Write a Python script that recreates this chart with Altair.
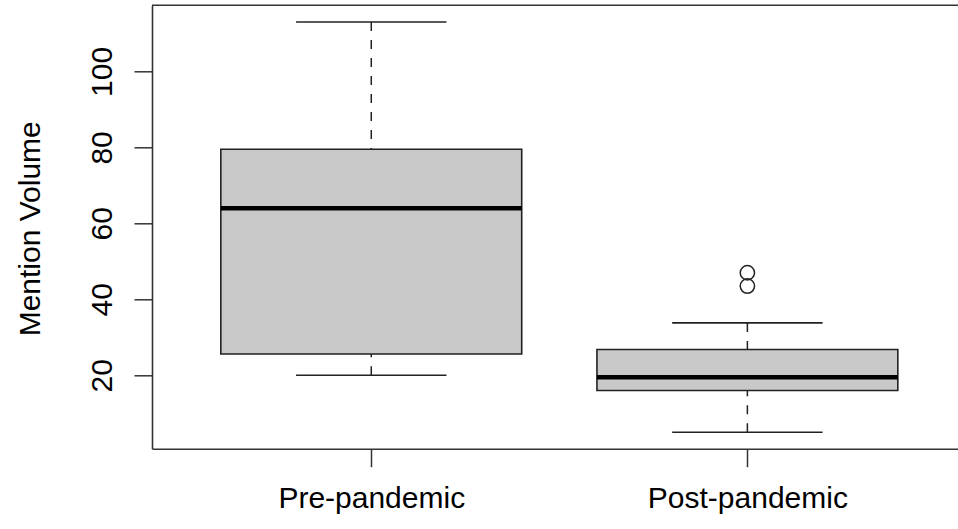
import json
import altair as alt
import pandas as pd

# ---- data ----
groups = ["Pre-pandemic", "Post-pandemic"]
lower_whisker = [20, 5]
q1 = [25.6, 16]
median = [64, 19.5]
q3 = [79.5, 26.8]
upper_whisker = [113, 33.8]
outlier_group = ["Post-pandemic", "Post-pandemic"]
outlier_values = [47, 43.5]
y_ticks = [20, 40, 60, 80, 100]

pos = [i + 1 for i in range(len(groups))]
df = pd.DataFrame({
    "group": groups, "pos": pos,
    "lower": lower_whisker, "q1": q1, "median": median,
    "q3": q3, "upper": upper_whisker,
})
df["left"] = df["pos"] - 0.4
df["right"] = df["pos"] + 0.4
df["capL"] = df["pos"] - 0.2
df["capR"] = df["pos"] + 0.2

out_df = pd.DataFrame({
    "pos": [groups.index(g) + 1 for g in outlier_group],
    "value": outlier_values,
})

W, H = 806, 443.4
FONT = "Liberation Sans"
FS = 30
LINE = "#222222"

xs = alt.Scale(domain=[0.417, 2.56], nice=False, zero=False)
ys = alt.Scale(domain=[0.68, 117.4], nice=False, zero=False)

label_expr = json.dumps(groups) + "[datum.value - 1]"
xaxis = alt.Axis(values=pos, labelExpr=label_expr, title=None, grid=False,
                 labelBaseline="top", labelAlign="center", labelLimit=0)
yaxis = alt.Axis(values=y_ticks, title="Mention Volume", grid=False,
                 labelAngle=270, labelAlign="center", labelBaseline="bottom",
                 labelLimit=0,
                 titleAngle=270, titleX=-113, titleY=223,
                 titleAlign="center", titleBaseline="alphabetic")


def X(f):
    return alt.X(f, type="quantitative", scale=xs, axis=xaxis)


def Y(f):
    return alt.Y(f, type="quantitative", scale=ys, axis=yaxis)


base = alt.Chart(df)

up_wh = base.mark_rule(color=LINE, strokeWidth=1.5, strokeDash=[9, 9]).encode(
    x=X("pos"), y=Y("upper"), y2="q3")
lo_wh = base.mark_rule(color=LINE, strokeWidth=1.5, strokeDash=[9, 9]).encode(
    x=X("pos"), y=Y("lower"), y2="q1")
up_cap = base.mark_rule(color=LINE, strokeWidth=1.6).encode(
    x=X("capL"), x2="capR", y=Y("upper"))
lo_cap = base.mark_rule(color=LINE, strokeWidth=1.6).encode(
    x=X("capL"), x2="capR", y=Y("lower"))
box = base.mark_rect(fill="#C8C8C8", stroke=LINE, strokeWidth=1.6).encode(
    x=X("left"), x2="right", y=Y("q1"), y2="q3")
med = base.mark_rule(color="black", strokeWidth=4.5).encode(
    x=X("left"), x2="right", y=Y("median"))
outl = alt.Chart(out_df).mark_point(shape="circle", filled=False, size=205,
                                    color=LINE, strokeWidth=1.5, opacity=1).encode(
    x=X("pos"), y=Y("value"))
top_frame = alt.Chart(pd.DataFrame({"a": [0]})).mark_rule(
    color="#333333", strokeWidth=1.6).encode(
    x=alt.value(0), x2=alt.value(W), y=alt.value(0))

chart = alt.layer(up_wh, lo_wh, up_cap, lo_cap, box, med, outl, top_frame).properties(
    width=W, height=H,
    autosize=alt.AutoSizeParams(type="none"),
    padding={"left": 152, "top": 5.3, "right": 0, "bottom": 80.3},
    background="white",
).configure_view(stroke=None).configure_axis(
    domain=True, domainColor="#333333", domainWidth=1.6,
    ticks=True, tickColor="#333333", tickWidth=1.5, tickSize=18,
    labelFont=FONT, labelFontSize=FS, labelColor="black", labelPadding=17,
    labelFlush=False, labelOverlap=False,
    titleFont=FONT, titleFontSize=FS, titleColor="black", titleFontWeight="normal",
)

chart.save("out.html", embed_options={"renderer": "svg", "actions": False})
